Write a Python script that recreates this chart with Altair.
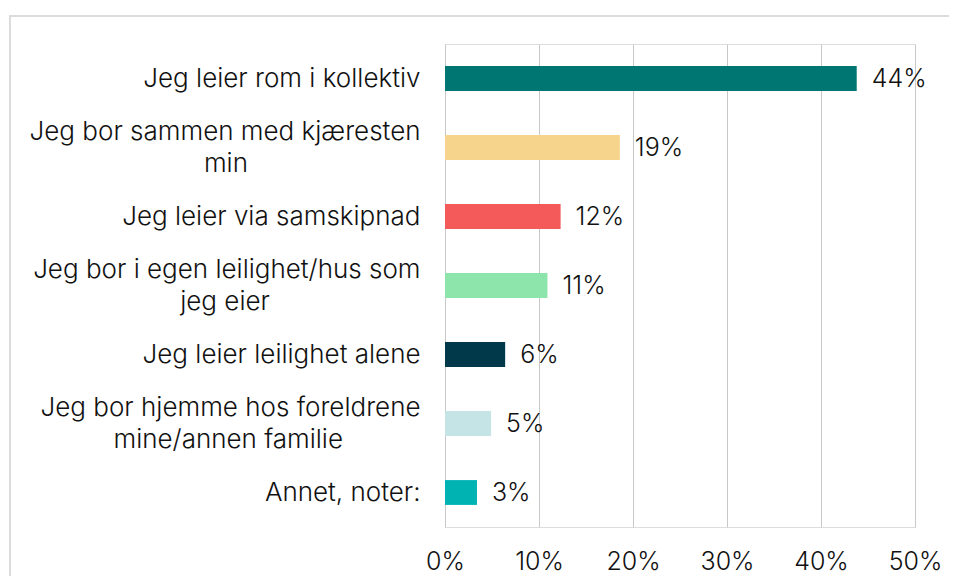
import altair as alt
import pandas as pd

NB = "\u00a0"
END = "\u2800"

categories = [
    "Jeg leier rom i kollektiv",
    "Jeg bor sammen med kjæresten|min" + NB * 21 + END,
    "Jeg leier via samskipnad",
    "Jeg bor i egen leilighet/hus som|jeg eier" + NB * 18 + END,
    "Jeg leier leilighet alene",
    "Jeg bor hjemme hos foreldrene|mine/annen familie" + NB * 8 + END,
    "Annet, noter:",
]
values = [0.438, 0.186, 0.123, 0.109, 0.064, 0.049, 0.034]
colors = ["#007672", "#F7D48B", "#F45A5A", "#8EE5AC", "#02394A", "#C4E4E5", "#00B3B3"]
x_ticks = [0, 0.1, 0.2, 0.3, 0.4, 0.5]

df = pd.DataFrame({"cat": categories, "value": values, "color": colors})

FONT = "Inter"
WEIGHT = 300
W, H = 470, 483

y_enc = alt.Y(
    "cat:N",
    sort=None,
    title=None,
    scale=alt.Scale(paddingInner=0.64, paddingOuter=0.32),
    axis=alt.Axis(
        labelExpr="split(datum.label, '|')",
        labelFont=FONT,
        labelFontWeight=WEIGHT,
        labelFontSize=26,
        labelColor="#111111",
        labelLineHeight=32,
        labelPadding=25,
        labelLimit=0,
        labelOffset=alt.condition("indexof(datum.label, '|') >= 0", alt.value(-16), alt.value(0)),
        ticks=False,
        domain=False,
        grid=False,
        labelBaseline="middle",
    ),
)

x_enc = alt.X(
    "value:Q",
    title=None,
    scale=alt.Scale(domain=[0, 0.5], nice=False),
    axis=alt.Axis(
        values=x_ticks,
        format=".0%",
        labelFont=FONT,
        labelFontWeight=WEIGHT,
        labelFontSize=25,
        labelColor="#111111",
        labelPadding=22,
        labelFlush=False,
        ticks=False,
        domain=False,
        grid=True,
        gridColor="#c8c8c8",
        gridWidth=1,
    ),
)

bars = alt.Chart(df).mark_bar().encode(
    x=x_enc,
    y=y_enc,
    color=alt.Color("color:N", scale=None),
)

text = alt.Chart(df).mark_text(
    align="left", baseline="middle", dx=15, font=FONT, fontWeight=WEIGHT,
    fontSize=25, color="#111111"
).encode(
    x="value:Q",
    y=alt.Y("cat:N", sort=None),
    text=alt.Text("value:Q", format=".0%"),
)

border = alt.Chart(df).mark_rect(
    fill=None, stroke="#dcdcdc", strokeWidth=2
).encode(
    x=alt.value(-435), x2=alt.value(W + 200),
    y=alt.value(-28), y2=alt.value(H + 200),
)

chart = alt.layer(border, bars, text).properties(
    width=W,
    height=H,
    autosize=alt.AutoSizeParams(type="none"),
    padding={"left": 437, "top": 36, "right": 34, "bottom": 49},
).configure_view(stroke=None).configure(background="white")

chart.save("out.html", embed_options={"renderer": "svg", "actions": False})
